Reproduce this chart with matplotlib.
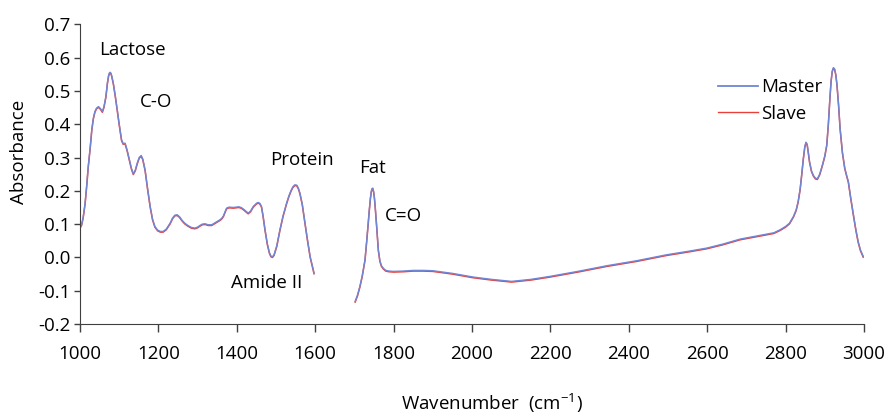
import matplotlib
matplotlib.use("Agg")
import matplotlib.pyplot as plt
import matplotlib.transforms as mtrans

# spectrum split in two pieces (the 1600-1700 region is cut out)
wn_low = [1000, 1004, 1008, 1013, 1017, 1021, 1026, 1030, 1034, 1038, 1042, 1047, 1052, 1057,
          1061, 1066, 1070, 1073, 1075, 1077, 1079, 1081, 1085, 1090, 1095, 1100, 1106, 1110,
          1115, 1120, 1126, 1131, 1136, 1141, 1146, 1151, 1156, 1160, 1166, 1172, 1179, 1185,
          1191, 1198, 1205, 1212, 1220, 1230, 1236, 1242, 1248, 1254, 1260, 1267, 1275, 1284,
          1293, 1300, 1306, 1312, 1319, 1327, 1336, 1343, 1350, 1357, 1362, 1366, 1370, 1374,
          1380, 1391, 1398, 1405, 1411, 1417, 1423, 1429, 1435, 1442, 1448, 1452, 1455, 1459,
          1463, 1467, 1472, 1478, 1483, 1487, 1491, 1495, 1502, 1510, 1518, 1527, 1533, 1538,
          1543, 1548, 1553, 1557, 1561, 1567, 1574, 1580, 1587, 1592, 1597]
abs_low = [0.09, 0.098, 0.120, 0.163, 0.215, 0.273, 0.330, 0.383, 0.418, 0.438, 0.448, 0.453, 0.447, 0.438,
           0.452, 0.483, 0.525, 0.547, 0.554, 0.556, 0.553, 0.545, 0.523, 0.485, 0.443, 0.400, 0.353, 0.342,
           0.343, 0.323, 0.293, 0.268, 0.251, 0.262, 0.283, 0.300, 0.306, 0.296, 0.263, 0.210, 0.153, 0.115,
           0.093, 0.082, 0.078, 0.078, 0.085, 0.103, 0.118, 0.127, 0.128, 0.122, 0.112, 0.103, 0.096, 0.090,
           0.088, 0.091, 0.096, 0.100, 0.101, 0.098, 0.098, 0.103, 0.108, 0.113, 0.118, 0.125, 0.137, 0.148,
           0.151, 0.150, 0.151, 0.152, 0.150, 0.145, 0.139, 0.133, 0.139, 0.153, 0.160, 0.164, 0.165, 0.162,
           0.153, 0.125, 0.083, 0.040, 0.015, 0.004, 0.002, 0.008, 0.035, 0.083, 0.125, 0.163, 0.185, 0.200,
           0.212, 0.218, 0.217, 0.208, 0.193, 0.160, 0.103, 0.055, 0.003, -0.022, -0.047]

wn_high = [1702, 1708, 1714, 1720, 1727, 1731, 1735, 1738, 1741, 1743, 1745, 1747, 1749, 1751,
           1753, 1757, 1761, 1765, 1769, 1774, 1780, 1788, 1800, 1825, 1850, 1875, 1900, 1950,
           2003, 2050, 2101, 2150, 2199, 2270, 2344, 2420, 2497, 2550, 2599, 2640, 2684, 2743,
           2770, 2786, 2800, 2810, 2820, 2827, 2832, 2837, 2841, 2845, 2849, 2852, 2855, 2858,
           2861, 2866, 2871, 2876, 2881, 2887, 2894, 2900, 2905, 2909, 2913, 2916, 2919, 2922,
           2925, 2928, 2931, 2935, 2939, 2945, 2951, 2956, 2960, 2966, 2973, 2979, 2985, 2991, 2998]
abs_high = [-0.132, -0.113, -0.087, -0.055, -0.007, 0.045, 0.100, 0.143, 0.180, 0.198, 0.207, 0.208, 0.198, 0.180,
            0.153, 0.090, 0.023, -0.010, -0.025, -0.033, -0.039, -0.041, -0.042, -0.041, -0.039, -0.039, -0.040, -0.048,
            -0.059, -0.066, -0.072, -0.066, -0.057, -0.042, -0.025, -0.010, 0.008, 0.018, 0.028, 0.040, 0.055, 0.068,
            0.074, 0.083, 0.093, 0.103, 0.123, 0.143, 0.168, 0.205, 0.248, 0.295, 0.333, 0.346, 0.340, 0.315,
            0.288, 0.260, 0.246, 0.238, 0.236, 0.250, 0.278, 0.305, 0.338, 0.400, 0.478, 0.530, 0.560, 0.570,
            0.566, 0.550, 0.520, 0.460, 0.388, 0.315, 0.268, 0.245, 0.228, 0.180, 0.128, 0.085, 0.048, 0.022, 0.003]

peak_labels = ["Lactose", "C-O", "Protein", "Fat", "C=O", "Amide II"]
label_x = [1133, 1194, 1565, 1747, 1824, 1477]
label_y = [0.623, 0.468, 0.293, 0.268, 0.125, -0.076]

xticks = list(range(1000, 3001, 200))
yticks = [-0.2, -0.1, 0.0, 0.1, 0.2, 0.3, 0.4, 0.5, 0.6, 0.7]

plt.rcParams['font.family'] = ['Open Sans', 'DejaVu Sans']
plt.rcParams['mathtext.fontset'] = 'custom'
plt.rcParams['mathtext.rm'] = 'Open Sans'

fig = plt.figure(figsize=(8.91, 4.15), dpi=100)
ax = fig.add_axes([0.0898, 0.2193, 0.8799, 0.7221])

master_c = '#7086d6'
slave_c = '#e8403a'
shift = mtrans.offset_copy(ax.transData, fig=fig, x=0, y=-0.7, units='dots')
for wn, ab in [(wn_low, abs_low), (wn_high, abs_high)]:
    ax.plot(wn, ab, color=slave_c, lw=1.1, transform=shift, solid_joinstyle='round')
    ax.plot(wn, ab, color=master_c, lw=1.0, solid_joinstyle='round')

# legend entries
ax.plot([], [], color=master_c, lw=1.3, label='Master')
ax.plot([], [], color=slave_c, lw=1.0, label='Slave')
handles, labels = ax.get_legend_handles_labels()
ax.legend(handles[-2:], labels[-2:], loc='upper left', bbox_to_anchor=(0.814, 0.82),
          frameon=False, fontsize=13.5, handlelength=2.1, handletextpad=0.2,
          labelspacing=0.45, borderpad=0, borderaxespad=0)

for txt, x, y in zip(peak_labels, label_x, label_y):
    ax.text(x, y, txt, ha='center', va='center', fontsize=13.5)

ax.set_xlim(1000, 3000)
ax.set_ylim(-0.2, 0.7)
ax.set_xticks(xticks)
ax.set_yticks(yticks)
ax.set_yticklabels([f"{v:.1f}" for v in yticks], fontsize=13.5)
ax.set_xticklabels([str(v) for v in xticks], fontsize=13.5)
ax.tick_params(axis='x', direction='out', length=6, width=1, color='#404040', pad=9)
ax.tick_params(axis='y', direction='out', length=4, width=1, color='#404040', pad=3)
for s in ['top', 'right']:
    ax.spines[s].set_visible(False)
for s in ['left', 'bottom']:
    ax.spines[s].set_color('#404040')

ax.set_ylabel('Absorbance', fontsize=13.5)
ax.yaxis.set_label_coords(-0.066, 0.573)
ax.set_xlabel('Wavenumber  (cm$^{-1}$)', fontsize=13.5)
ax.xaxis.set_label_coords(0.525, -0.225)

fig.savefig('out.png', dpi=100)
